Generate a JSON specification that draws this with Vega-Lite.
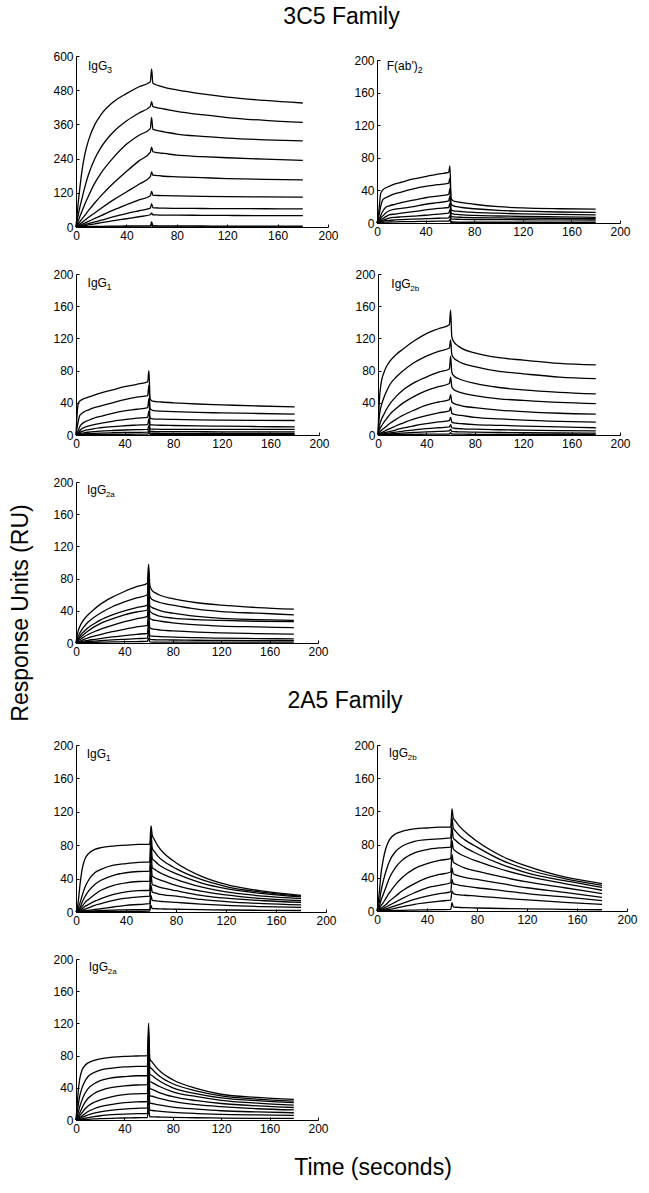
{
"$schema":"https://vega.github.io/schema/vega-lite/v6.json",
"background":"white",
"padding":{"left":9,"top":6,"right":0,"bottom":0},
"title":{"text":"Response Units (RU)","orient":"left","anchor":"middle","fontSize":23,"offset":20,"dx":-20},
"datasets":{"d":[
{"p":1,"t":0,"a":0,"b":0,"c":0,"d":0,"e":0,"f":0,"g":0,"h":0,"i":0,"j":0},
{"p":1,"t":1,"a":50,"b":25,"c":12,"d":6,"e":3,"f":2,"g":1,"h":1,"i":0,"j":0},
{"p":1,"t":2,"a":95,"b":48,"c":24,"d":12,"e":7,"f":4,"g":2.5,"h":1.5,"i":0.5,"j":0},
{"p":1,"t":3,"a":135,"b":68,"c":36,"d":18,"e":10,"f":6,"g":3.5,"h":2.2,"i":0.7,"j":0},
{"p":1,"t":5,"a":205,"b":105,"c":58,"d":30,"e":17,"f":10,"g":6,"h":3.7,"i":1,"j":0},
{"p":1,"t":7,"a":255,"b":140,"c":80,"d":41,"e":24,"f":14,"g":8.5,"h":5.2,"i":1.2,"j":0},
{"p":1,"t":10,"a":305,"b":185,"c":110,"d":58,"e":34,"f":20,"g":12,"h":7.5,"i":1.5,"j":0},
{"p":1,"t":15,"a":360,"b":240,"c":155,"d":85,"e":50,"f":30,"g":18,"h":11,"i":2,"j":0},
{"p":1,"t":20,"a":395,"b":280,"c":190,"d":110,"e":66,"f":40,"g":24,"h":15,"i":2.5,"j":0},
{"p":1,"t":30,"a":440,"b":335,"c":245,"d":155,"e":96,"f":60,"g":36,"h":22,"i":3,"j":0},
{"p":1,"t":40,"a":468,"b":372,"c":290,"d":195,"e":123,"f":78,"g":47,"h":29,"i":3.5,"j":0},
{"p":1,"t":50,"a":492,"b":400,"c":322,"d":232,"e":150,"f":95,"g":57,"h":36,"i":4,"j":0},
{"p":1,"t":59,"a":510,"b":423,"c":345,"d":263,"e":177,"f":110,"g":66,"h":43,"i":4.5,"j":0},
{"p":1,"t":60,"a":555,"b":440,"c":385,"d":280,"e":193,"f":125,"g":82,"h":49,"i":18,"j":8},
{"p":1,"t":61,"a":505,"b":423,"c":343,"d":264,"e":182,"f":112,"g":68,"h":43,"i":5,"j":0},
{"p":1,"t":63,"a":500,"b":420,"c":340,"d":262,"e":181,"f":111,"g":67,"h":42.5,"i":4.5,"j":0},
{"p":1,"t":66,"a":495,"b":417,"c":337,"d":260,"e":180,"f":110.5,"g":66.5,"h":42,"i":4.2,"j":0},
{"p":1,"t":70,"a":490,"b":414,"c":334,"d":258,"e":178,"f":110,"g":66,"h":42,"i":4,"j":0},
{"p":1,"t":80,"a":481,"b":406,"c":326,"d":252,"e":176,"f":109,"g":65.5,"h":41.5,"i":3.8,"j":0},
{"p":1,"t":100,"a":467,"b":394,"c":318,"d":247,"e":173,"f":107.5,"g":65,"h":41,"i":3.5,"j":0},
{"p":1,"t":120,"a":456,"b":384,"c":312,"d":243,"e":170,"f":106.5,"g":64.5,"h":40.5,"i":3.2,"j":0},
{"p":1,"t":150,"a":444,"b":374,"c":306,"d":238,"e":167,"f":105.5,"g":64,"h":40,"i":3,"j":0},
{"p":1,"t":180,"a":435,"b":367,"c":302,"d":234,"e":165,"f":105,"g":63.5,"h":40,"i":3,"j":0},

{"p":2,"t":0,"a":0,"b":0,"c":0,"d":0,"e":0,"f":0,"g":0,"h":0},
{"p":2,"t":1,"a":8,"b":5,"c":2,"d":1.5,"e":1,"f":0.5,"g":0.3,"h":0},
{"p":2,"t":2,"a":22,"b":12,"c":5,"d":3.5,"e":2.5,"f":1.5,"g":1,"h":0.3},
{"p":2,"t":3,"a":36,"b":20,"c":9,"d":6,"e":4,"f":2.5,"g":1.5,"h":0.5},
{"p":2,"t":5,"a":41,"b":29,"c":15,"d":9,"e":5.5,"f":3.5,"g":2.2,"h":0.8},
{"p":2,"t":7,"a":43,"b":31,"c":19,"d":12,"e":7.5,"f":4.5,"g":2.8,"h":1},
{"p":2,"t":10,"a":45,"b":33,"c":21,"d":15,"e":10,"f":6,"g":3.3,"h":1.2},
{"p":2,"t":15,"a":48,"b":36,"c":23,"d":17,"e":11,"f":7,"g":3.8,"h":1.4},
{"p":2,"t":20,"a":50,"b":38,"c":25,"d":18,"e":12,"f":7.5,"g":4.2,"h":1.6},
{"p":2,"t":30,"a":54,"b":42,"c":28,"d":20,"e":14,"f":8.5,"g":4.8,"h":1.8},
{"p":2,"t":40,"a":57,"b":45,"c":31,"d":23,"e":16,"f":9.5,"g":5.3,"h":2},
{"p":2,"t":50,"a":60,"b":47,"c":33,"d":25,"e":18,"f":11,"g":5.8,"h":2.2},
{"p":2,"t":59,"a":62,"b":49,"c":35,"d":27,"e":19,"f":12,"g":6.2,"h":2.4},
{"p":2,"t":60,"a":70,"b":55,"c":42,"d":33,"e":24,"f":16,"g":9,"h":4},
{"p":2,"t":61,"a":30,"b":23,"c":16,"d":12,"e":8,"f":5,"g":1.5,"h":0},
{"p":2,"t":63,"a":27,"b":21,"c":15,"d":11,"e":7.5,"f":4.8,"g":1.2,"h":0},
{"p":2,"t":66,"a":26,"b":20,"c":14.5,"d":10.5,"e":7.2,"f":4.6,"g":1.1,"h":0},
{"p":2,"t":70,"a":25,"b":19,"c":14,"d":10,"e":7,"f":4.5,"g":1,"h":0.2},
{"p":2,"t":80,"a":23,"b":17.5,"c":13,"d":9.3,"e":6.6,"f":4.3,"g":1,"h":0.3},
{"p":2,"t":100,"a":20,"b":15.5,"c":12,"d":8.6,"e":6.2,"f":4.1,"g":1,"h":0.4},
{"p":2,"t":120,"a":18.5,"b":14.5,"c":11.2,"d":8,"e":5.9,"f":4,"g":1,"h":0.5},
{"p":2,"t":150,"a":17.5,"b":13.5,"c":10.5,"d":7.5,"e":5.6,"f":3.8,"g":1,"h":0.5},
{"p":2,"t":180,"a":17,"b":13,"c":10,"d":7,"e":5.3,"f":3.7,"g":1,"h":0.5},

{"p":3,"t":0,"a":0,"b":0,"c":0,"d":0,"e":0,"f":0,"g":0,"h":0},
{"p":3,"t":1,"a":28,"b":10,"c":3,"d":1.5,"e":1,"f":0.5,"g":0.3,"h":0},
{"p":3,"t":2,"a":40,"b":18,"c":6,"d":3,"e":2,"f":1,"g":0.5,"h":0.1},
{"p":3,"t":3,"a":42,"b":24,"c":10,"d":5,"e":3,"f":1.5,"g":0.8,"h":0.2},
{"p":3,"t":5,"a":44,"b":27,"c":14,"d":8,"e":4.5,"f":2.3,"g":1.1,"h":0.3},
{"p":3,"t":7,"a":45.5,"b":29,"c":16,"d":9.5,"e":5.5,"f":2.8,"g":1.4,"h":0.4},
{"p":3,"t":10,"a":47,"b":31,"c":18,"d":11,"e":6.5,"f":3.4,"g":1.7,"h":0.5},
{"p":3,"t":15,"a":49.5,"b":34,"c":21,"d":13,"e":8,"f":4.2,"g":2.1,"h":0.6},
{"p":3,"t":20,"a":52,"b":36,"c":23,"d":14.5,"e":9,"f":4.8,"g":2.4,"h":0.7},
{"p":3,"t":30,"a":56,"b":40,"c":27,"d":17,"e":10.5,"f":5.6,"g":2.8,"h":0.8},
{"p":3,"t":40,"a":60,"b":44,"c":30,"d":19,"e":11.5,"f":6.2,"g":3.1,"h":0.9},
{"p":3,"t":50,"a":63,"b":47,"c":32,"d":21,"e":12.3,"f":6.7,"g":3.3,"h":1},
{"p":3,"t":59,"a":66,"b":49,"c":34,"d":22,"e":13,"f":7,"g":3.5,"h":1},
{"p":3,"t":60,"a":80,"b":62,"c":45,"d":30,"e":20,"f":12,"g":7,"h":3},
{"p":3,"t":61,"a":45,"b":33,"c":21,"d":13,"e":7.5,"f":4.5,"g":2.3,"h":0.6},
{"p":3,"t":63,"a":42,"b":30.5,"c":20,"d":12.5,"e":7.3,"f":4.4,"g":2.2,"h":0.6},
{"p":3,"t":66,"a":41.5,"b":30,"c":19.8,"d":12.3,"e":7.2,"f":4.3,"g":2.2,"h":0.6},
{"p":3,"t":70,"a":41,"b":29.7,"c":19.6,"d":12.1,"e":7.1,"f":4.3,"g":2.1,"h":0.6},
{"p":3,"t":80,"a":40,"b":29,"c":19.3,"d":11.8,"e":7,"f":4.2,"g":2.1,"h":0.6},
{"p":3,"t":100,"a":38.5,"b":28,"c":18.8,"d":11.3,"e":7,"f":4.1,"g":2,"h":0.5},
{"p":3,"t":120,"a":37.5,"b":27.5,"c":18.5,"d":11,"e":7,"f":4,"g":2,"h":0.5},
{"p":3,"t":150,"a":36,"b":26.7,"c":18.2,"d":10.5,"e":7,"f":4,"g":2,"h":0.5},
{"p":3,"t":180,"a":35,"b":26,"c":18,"d":10,"e":7,"f":4,"g":2,"h":0.5},

{"p":4,"t":0,"a":0,"b":0,"c":0,"d":0,"e":0,"f":0,"g":0,"h":0,"i":0,"j":0},
{"p":4,"t":1,"a":40,"b":22,"c":10,"d":6,"e":3,"f":1.5,"g":1,"h":0.5,"i":0.2,"j":0.1},
{"p":4,"t":2,"a":58,"b":32,"c":16,"d":9,"e":4.5,"f":2.5,"g":1.5,"h":0.8,"i":0.4,"j":0.2},
{"p":4,"t":3,"a":68,"b":38,"c":20,"d":11.5,"e":6,"f":3,"g":2,"h":1,"i":0.5,"j":0.2},
{"p":4,"t":5,"a":78,"b":47,"c":26,"d":16,"e":8.5,"f":4.5,"g":2.8,"h":1.5,"i":0.8,"j":0.3},
{"p":4,"t":7,"a":85,"b":54,"c":32,"d":20,"e":11,"f":6,"g":3.5,"h":2,"i":1,"j":0.4},
{"p":4,"t":10,"a":92,"b":63,"c":39,"d":26,"e":14.5,"f":8,"g":4.5,"h":2.6,"i":1.3,"j":0.5},
{"p":4,"t":15,"a":100,"b":72,"c":48,"d":33,"e":19.5,"f":11.5,"g":6.5,"h":3.6,"i":1.8,"j":0.6},
{"p":4,"t":20,"a":106,"b":79,"c":55,"d":39,"e":24,"f":14.5,"g":8.5,"h":4.6,"i":2.3,"j":0.7},
{"p":4,"t":30,"a":117,"b":90,"c":65,"d":48,"e":31,"f":20,"g":11.5,"h":6.3,"i":3.1,"j":0.9},
{"p":4,"t":40,"a":126,"b":98,"c":72,"d":55,"e":37,"f":24,"g":14,"h":7.8,"i":3.8,"j":1},
{"p":4,"t":50,"a":132,"b":104,"c":78,"d":60,"e":41,"f":27.5,"g":16.2,"h":9,"i":4.4,"j":1.1},
{"p":4,"t":59,"a":137,"b":108,"c":82,"d":64,"e":44,"f":30,"g":18,"h":10,"i":5,"j":1.2},
{"p":4,"t":60,"a":155,"b":118,"c":98,"d":72,"e":50,"f":35,"g":22,"h":13,"i":7,"j":3},
{"p":4,"t":61,"a":122,"b":100,"c":78,"d":60,"e":41,"f":27,"g":16,"h":9,"i":4.5,"j":1},
{"p":4,"t":63,"a":115,"b":95,"c":73,"d":56,"e":39,"f":25.5,"g":15,"h":8.4,"i":4.2,"j":1},
{"p":4,"t":66,"a":111,"b":92,"c":70.5,"d":54,"e":37.5,"f":24.8,"g":14.5,"h":8,"i":4,"j":1},
{"p":4,"t":70,"a":107,"b":89,"c":68,"d":52,"e":36,"f":24,"g":14,"h":7.7,"i":3.8,"j":1},
{"p":4,"t":80,"a":102,"b":85,"c":64,"d":49,"e":34,"f":22,"g":13,"h":7.2,"i":3.5,"j":0.9},
{"p":4,"t":100,"a":96,"b":79,"c":59,"d":45,"e":31,"f":20,"g":12,"h":6.5,"i":3.1,"j":0.8},
{"p":4,"t":120,"a":93,"b":76,"c":56,"d":43,"e":29,"f":18.5,"g":11,"h":6,"i":2.8,"j":0.8},
{"p":4,"t":150,"a":89,"b":72,"c":53,"d":40.5,"e":27,"f":17,"g":10,"h":5.4,"i":2.5,"j":0.7},
{"p":4,"t":180,"a":87,"b":70,"c":51,"d":39,"e":26,"f":16,"g":9,"h":5,"i":2.3,"j":0.7},

{"p":5,"t":0,"a":0,"b":0,"c":0,"d":0,"e":0,"f":0,"g":0,"h":0,"i":0},
{"p":5,"t":1,"a":10,"b":5,"c":3,"d":2.5,"e":1.5,"f":1,"g":0.5,"h":0.3,"i":0.1},
{"p":5,"t":2,"a":16,"b":9,"c":6,"d":4.5,"e":3,"f":1.8,"g":1,"h":0.5,"i":0.2},
{"p":5,"t":3,"a":20,"b":12,"c":8,"d":6,"e":4,"f":2.3,"g":1.3,"h":0.7,"i":0.3},
{"p":5,"t":5,"a":26,"b":17,"c":12,"d":9,"e":6,"f":3.5,"g":2,"h":1,"i":0.4},
{"p":5,"t":7,"a":30,"b":21,"c":15,"d":11.5,"e":8,"f":4.7,"g":2.5,"h":1.3,"i":0.5},
{"p":5,"t":10,"a":35,"b":26,"c":19,"d":15,"e":10.5,"f":6.3,"g":3.3,"h":1.7,"i":0.6},
{"p":5,"t":15,"a":42,"b":32,"c":24,"d":20,"e":14,"f":8.5,"g":4.4,"h":2.3,"i":0.8},
{"p":5,"t":20,"a":48,"b":37,"c":28.5,"d":24,"e":17,"f":10.5,"g":5.5,"h":2.8,"i":1},
{"p":5,"t":30,"a":57,"b":45,"c":35,"d":30,"e":22,"f":14,"g":7.5,"h":3.8,"i":1.3},
{"p":5,"t":40,"a":64,"b":51,"c":40,"d":35,"e":26.5,"f":17,"g":9.2,"h":4.6,"i":1.6},
{"p":5,"t":50,"a":70,"b":56,"c":44,"d":38.5,"e":30,"f":20,"g":10.8,"h":5.4,"i":1.8},
{"p":5,"t":59,"a":74,"b":60,"c":47,"d":41,"e":33,"f":22,"g":12,"h":6,"i":2},
{"p":5,"t":60,"a":98,"b":92,"c":82,"d":72,"e":58,"f":42,"g":27,"h":16,"i":6},
{"p":5,"t":61,"a":72,"b":58,"c":46,"d":40,"e":31,"f":19,"g":9,"h":4.5,"i":1.3},
{"p":5,"t":63,"a":65,"b":54,"c":44,"d":37,"e":29,"f":17.5,"g":8.5,"h":4.2,"i":1.2},
{"p":5,"t":66,"a":62,"b":52,"c":42,"d":35,"e":28,"f":16.8,"g":8.2,"h":4,"i":1.2},
{"p":5,"t":70,"a":59,"b":50,"c":40,"d":33,"e":27,"f":16,"g":7.9,"h":3.9,"i":1.1},
{"p":5,"t":80,"a":55,"b":47,"c":37,"d":31,"e":25,"f":15,"g":7.4,"h":3.7,"i":1.1},
{"p":5,"t":100,"a":50,"b":42,"c":33,"d":29,"e":22.5,"f":13.5,"g":6.6,"h":3.4,"i":1},
{"p":5,"t":120,"a":47,"b":39,"c":30.5,"d":28,"e":21,"f":12.5,"g":6,"h":3.2,"i":1},
{"p":5,"t":150,"a":44,"b":37,"c":29,"d":27,"e":20,"f":11.7,"g":5.5,"h":3,"i":1},
{"p":5,"t":180,"a":42,"b":35,"c":28,"d":26.5,"e":19,"f":11,"g":5,"h":3,"i":1},

{"p":6,"t":0,"a":0,"b":0,"c":0,"d":0,"e":0,"f":0,"g":0,"h":0,"i":0},
{"p":6,"t":1,"a":5,"b":2,"c":1,"d":0.6,"e":0.3,"f":0.2,"g":0.1,"h":0,"i":0},
{"p":6,"t":2,"a":15,"b":6,"c":3,"d":1.8,"e":1,"f":0.6,"g":0.3,"h":0.1,"i":0},
{"p":6,"t":3,"a":30,"b":10,"c":5,"d":3,"e":1.8,"f":1,"g":0.5,"h":0.2,"i":0},
{"p":6,"t":5,"a":52,"b":20,"c":12,"d":7,"e":4,"f":2,"g":1,"h":0.4,"i":0.1},
{"p":6,"t":7,"a":63,"b":29,"c":18,"d":11,"e":6.5,"f":3.5,"g":1.5,"h":0.6,"i":0.2},
{"p":6,"t":10,"a":70,"b":38,"c":25,"d":15,"e":9,"f":5,"g":2,"h":0.9,"i":0.3},
{"p":6,"t":15,"a":75,"b":47,"c":33,"d":21,"e":13,"f":8,"g":3,"h":1.4,"i":0.4},
{"p":6,"t":20,"a":77,"b":51,"c":38,"d":26,"e":16,"f":10,"g":4,"h":1.8,"i":0.5},
{"p":6,"t":30,"a":79,"b":56,"c":44,"d":32,"e":21,"f":14,"g":6,"h":2.3,"i":0.7},
{"p":6,"t":40,"a":80,"b":58,"c":47,"d":35,"e":24,"f":16.5,"g":8,"h":2.6,"i":0.8},
{"p":6,"t":50,"a":81,"b":59.5,"c":48.5,"d":36.5,"e":25.5,"f":18,"g":9,"h":2.8,"i":0.9},
{"p":6,"t":59,"a":81,"b":60,"c":49,"d":37,"e":26,"f":19,"g":10,"h":3,"i":1},
{"p":6,"t":60,"a":103,"b":95,"c":86,"d":72,"e":57,"f":45,"g":32,"h":20,"i":8},
{"p":6,"t":61,"a":92,"b":76,"c":64,"d":53,"e":43,"f":33,"g":24,"h":14,"i":4},
{"p":6,"t":63,"a":86,"b":72,"c":61,"d":51,"e":41,"f":32,"g":23,"h":13.5,"i":4},
{"p":6,"t":66,"a":78,"b":66,"c":57,"d":48,"e":39,"f":30,"g":21.5,"h":13,"i":3.8},
{"p":6,"t":70,"a":71,"b":61,"c":53,"d":45,"e":37,"f":28.5,"g":20.5,"h":12.5,"i":3.6},
{"p":6,"t":80,"a":59,"b":52,"c":46,"d":39,"e":32,"f":25.5,"g":19,"h":11.5,"i":3.3},
{"p":6,"t":100,"a":43,"b":39,"c":35,"d":30,"e":25,"f":20,"g":15,"h":9.5,"i":2.8},
{"p":6,"t":120,"a":33,"b":30.5,"c":28,"d":24,"e":20.5,"f":16.5,"g":12.5,"h":8,"i":2.4},
{"p":6,"t":150,"a":25,"b":23.5,"c":22,"d":19,"e":16,"f":13.5,"g":10,"h":6.5,"i":2},
{"p":6,"t":180,"a":20,"b":19,"c":18,"d":16,"e":13.5,"f":11.5,"g":8.5,"h":5.5,"i":1.8},

{"p":7,"t":0,"a":0,"b":0,"c":0,"d":0,"e":0,"f":0,"g":0,"h":0,"i":0},
{"p":7,"t":1,"a":10,"b":5,"c":2.5,"d":1.2,"e":0.6,"f":0.3,"g":0.2,"h":0.1,"i":0},
{"p":7,"t":2,"a":25,"b":12,"c":6,"d":3,"e":1.5,"f":0.8,"g":0.5,"h":0.2,"i":0},
{"p":7,"t":3,"a":42,"b":22,"c":12,"d":6,"e":3,"f":1.5,"g":0.9,"h":0.4,"i":0.1},
{"p":7,"t":5,"a":62,"b":36,"c":20,"d":10,"e":5,"f":3,"g":1.7,"h":0.8,"i":0.2},
{"p":7,"t":7,"a":75,"b":47,"c":28,"d":15,"e":7.5,"f":4.5,"g":2.5,"h":1.2,"i":0.3},
{"p":7,"t":10,"a":86,"b":60,"c":40,"d":22,"e":12,"f":7,"g":4,"h":2,"i":0.4},
{"p":7,"t":15,"a":93,"b":72,"c":53,"d":32,"e":18,"f":11,"g":6.5,"h":3.5,"i":0.6},
{"p":7,"t":20,"a":96,"b":78,"c":61,"d":40,"e":24,"f":15,"g":9,"h":5,"i":0.8},
{"p":7,"t":30,"a":99,"b":84,"c":70,"d":51,"e":33,"f":22,"g":14,"h":8,"i":1.1},
{"p":7,"t":40,"a":100,"b":86,"c":74,"d":57,"e":40,"f":28,"g":18,"h":10,"i":1.4},
{"p":7,"t":50,"a":101,"b":87,"c":76,"d":61,"e":44,"f":31,"g":21,"h":12,"i":1.7},
{"p":7,"t":59,"a":101,"b":88,"c":77,"d":63,"e":47,"f":34,"g":23,"h":13,"i":2},
{"p":7,"t":60,"a":123,"b":112,"c":100,"d":85,"e":68,"f":52,"g":38,"h":24,"i":10},
{"p":7,"t":61,"a":112,"b":100,"c":88,"d":75,"e":59,"f":45,"g":33,"h":21,"i":5},
{"p":7,"t":63,"a":108,"b":96,"c":85,"d":72,"e":57,"f":43.5,"g":32,"h":20,"i":4.5},
{"p":7,"t":66,"a":102,"b":91,"c":81,"d":69,"e":54.5,"f":42,"g":31,"h":19.5,"i":4.2},
{"p":7,"t":70,"a":96,"b":86,"c":77,"d":66,"e":52,"f":40.5,"g":30,"h":19,"i":4},
{"p":7,"t":80,"a":84,"b":77,"c":69,"d":60,"e":48,"f":38,"g":28,"h":18,"i":3.6},
{"p":7,"t":100,"a":66,"b":61,"c":56,"d":50,"e":41,"f":33,"g":24.5,"h":15.5,"i":3},
{"p":7,"t":120,"a":54,"b":50,"c":46,"d":42,"e":35,"f":28,"g":21,"h":13.5,"i":2.5},
{"p":7,"t":150,"a":41,"b":39,"c":36.5,"d":33,"e":28,"f":22.5,"g":17,"h":10.5,"i":2},
{"p":7,"t":180,"a":33,"b":31,"c":28.5,"d":25,"e":21,"f":16.5,"g":12.5,"h":8,"i":1.5},

{"p":8,"t":0,"a":0,"b":0,"c":0,"d":0,"e":0,"f":0,"g":0,"h":0,"i":0},
{"p":8,"t":1,"a":20,"b":10,"c":5,"d":2.5,"e":1.5,"f":1,"g":0.5,"h":0.3,"i":0.1},
{"p":8,"t":2,"a":38,"b":20,"c":10,"d":5,"e":3,"f":2,"g":1.2,"h":0.6,"i":0.2},
{"p":8,"t":3,"a":50,"b":29,"c":16,"d":8.5,"e":5,"f":3,"g":1.8,"h":0.9,"i":0.3},
{"p":8,"t":5,"a":62,"b":40,"c":25,"d":15,"e":9,"f":5,"g":3,"h":1.5,"i":0.5},
{"p":8,"t":7,"a":67,"b":47,"c":32,"d":21,"e":13,"f":7.5,"g":4.5,"h":2.2,"i":0.7},
{"p":8,"t":10,"a":71,"b":54,"c":39,"d":27,"e":17.5,"f":10.5,"g":6.2,"h":3,"i":0.9},
{"p":8,"t":15,"a":74,"b":59,"c":45,"d":33,"e":22,"f":14,"g":8.5,"h":4.3,"i":1.3},
{"p":8,"t":20,"a":76,"b":62,"c":49,"d":36.5,"e":25,"f":16.5,"g":10,"h":5.3,"i":1.6},
{"p":8,"t":30,"a":78,"b":64.5,"c":52.5,"d":40.5,"e":29,"f":19.5,"g":12.3,"h":6.6,"i":2.1},
{"p":8,"t":40,"a":79,"b":66,"c":54,"d":42.5,"e":31.5,"f":21.5,"g":13.6,"h":7.4,"i":2.5},
{"p":8,"t":50,"a":79.5,"b":66.5,"c":55,"d":43.5,"e":32.5,"f":22.5,"g":14.5,"h":7.9,"i":2.8},
{"p":8,"t":59,"a":80,"b":67,"c":55,"d":44,"e":33,"f":23,"g":15,"h":8,"i":3},
{"p":8,"t":60,"a":120,"b":110,"c":100,"d":88,"e":75,"f":60,"g":45,"h":30,"i":15},
{"p":8,"t":61,"a":76,"b":66,"c":57,"d":48,"e":39,"f":30,"g":21,"h":12,"i":4},
{"p":8,"t":63,"a":72,"b":63,"c":55,"d":46.5,"e":38,"f":29.5,"g":20.5,"h":11.8,"i":4},
{"p":8,"t":66,"a":66,"b":58.5,"c":51.5,"d":44,"e":36,"f":28,"g":19.5,"h":11.3,"i":3.8},
{"p":8,"t":70,"a":60,"b":53.5,"c":47.5,"d":41,"e":33.5,"f":26.5,"g":18.5,"h":10.7,"i":3.6},
{"p":8,"t":80,"a":50,"b":45,"c":40,"d":35,"e":29,"f":23,"g":16,"h":9.5,"i":3.2},
{"p":8,"t":100,"a":39,"b":36,"c":32.5,"d":29,"e":24,"f":19,"g":13.5,"h":8,"i":2.8},
{"p":8,"t":120,"a":32,"b":30,"c":27.5,"d":24.5,"e":20.5,"f":16.5,"g":11.5,"h":7,"i":2.4},
{"p":8,"t":150,"a":28,"b":26,"c":24,"d":21,"e":17.5,"f":14,"g":10,"h":6.3,"i":2.1},
{"p":8,"t":180,"a":25.5,"b":23.5,"c":21.5,"d":18.5,"e":15.5,"f":12.5,"g":9,"h":5.8,"i":2}
]},
"vconcat":[{
 "title":{"text":"Time (seconds)","orient":"bottom","anchor":"middle","fontSize":23,"offset":23,"dx":28},
 "spacing":33,
 "vconcat":[
  {"title":{"text":"3C5 Family","anchor":"middle","fontSize":23,"offset":21},
   "spacing":27,
   "vconcat":[
    {"hconcat":[
      {"width":252,"height":171,"layer":[
        {"data":{"name":"d"},"transform":[{"filter":"datum.p==1"},{"fold":["a","b","c","d","e","f","g","h","i","j"],"as":["k","v"]}],
         "mark":{"type":"line"},
         "encoding":{"x":{"field":"t","type":"quantitative","title":null,"scale":{"domain":[0,200]},"axis":{"values":[0,40,80,120,160,200],"tickCount":6,"labelOverlap":false}},
                     "y":{"field":"v","type":"quantitative","title":null,"scale":{"domain":[0,600]},"axis":{"values":[0,120,240,360,480,600],"tickCount":6,"labelOverlap":false}},
                     "detail":{"field":"k"}}},
        {"data":{"values":[{"m":"IgG","s":"3"}]},"mark":{"type":"text","align":"left","baseline":"alphabetic","fontSize":12},
         "encoding":{"x":{"datum":9.5},"y":{"datum":551},"text":{"field":"m"}}},
        {"data":{"values":[{"m":"IgG","s":"3"}]},"mark":{"type":"text","align":"left","baseline":"alphabetic","fontSize":9,"dx":19,"dy":3},
         "encoding":{"x":{"datum":9.5},"y":{"datum":551},"text":{"field":"s"}}}
      ]},
      {"width":243,"height":163,"layer":[
        {"data":{"name":"d"},"transform":[{"filter":"datum.p==2"},{"fold":["a","b","c","d","e","f","g","h"],"as":["k","v"]}],
         "mark":{"type":"line"},
         "encoding":{"x":{"field":"t","type":"quantitative","title":null,"scale":{"domain":[0,200]},"axis":{"values":[0,40,80,120,160,200],"tickCount":6,"labelOverlap":false}},
                     "y":{"field":"v","type":"quantitative","title":null,"scale":{"domain":[0,200]},"axis":{"values":[0,40,80,120,160,200],"tickCount":6,"labelOverlap":false}},
                     "detail":{"field":"k"}}},
        {"data":{"values":[{"m":"F(ab')","s":"2"}]},"mark":{"type":"text","align":"left","baseline":"alphabetic","fontSize":12},
         "encoding":{"x":{"datum":8},"y":{"datum":188},"text":{"field":"m"}}},
        {"data":{"values":[{"m":"F(ab')","s":"2"}]},"mark":{"type":"text","align":"left","baseline":"alphabetic","fontSize":9,"dx":31,"dy":3},
         "encoding":{"x":{"datum":8},"y":{"datum":188},"text":{"field":"s"}}}
      ]}
    ],"spacing":14,"center":true},
    {"hconcat":[
      {"width":243,"height":161,"layer":[
        {"data":{"name":"d"},"transform":[{"filter":"datum.p==3"},{"fold":["a","b","c","d","e","f","g","h"],"as":["k","v"]}],
         "mark":{"type":"line"},
         "encoding":{"x":{"field":"t","type":"quantitative","title":null,"scale":{"domain":[0,200]},"axis":{"values":[0,40,80,120,160,200],"tickCount":6,"labelOverlap":false}},
                     "y":{"field":"v","type":"quantitative","title":null,"scale":{"domain":[0,200]},"axis":{"values":[0,40,80,120,160,200],"tickCount":6,"labelOverlap":false}},
                     "detail":{"field":"k"}}},
        {"data":{"values":[{"m":"IgG","s":"1"}]},"mark":{"type":"text","align":"left","baseline":"alphabetic","fontSize":12},
         "encoding":{"x":{"datum":9.5},"y":{"datum":184},"text":{"field":"m"}}},
        {"data":{"values":[{"m":"IgG","s":"1"}]},"mark":{"type":"text","align":"left","baseline":"alphabetic","fontSize":9,"dx":19,"dy":3},
         "encoding":{"x":{"datum":9.5},"y":{"datum":184},"text":{"field":"s"}}}
      ]},
      {"width":242,"height":161,"layer":[
        {"data":{"name":"d"},"transform":[{"filter":"datum.p==4"},{"fold":["a","b","c","d","e","f","g","h","i","j"],"as":["k","v"]}],
         "mark":{"type":"line"},
         "encoding":{"x":{"field":"t","type":"quantitative","title":null,"scale":{"domain":[0,200]},"axis":{"values":[0,40,80,120,160,200],"tickCount":6,"labelOverlap":false}},
                     "y":{"field":"v","type":"quantitative","title":null,"scale":{"domain":[0,200]},"axis":{"values":[0,40,80,120,160,200],"tickCount":6,"labelOverlap":false}},
                     "detail":{"field":"k"}}},
        {"data":{"values":[{"m":"IgG","s":"2b"}]},"mark":{"type":"text","align":"left","baseline":"alphabetic","fontSize":12},
         "encoding":{"x":{"datum":11},"y":{"datum":183},"text":{"field":"m"}}},
        {"data":{"values":[{"m":"IgG","s":"2b"}]},"mark":{"type":"text","align":"left","baseline":"alphabetic","fontSize":8,"dx":19,"dy":3},
         "encoding":{"x":{"datum":11},"y":{"datum":183},"text":{"field":"s"}}}
      ]}
    ],"spacing":24},
    {"width":242,"height":161,"layer":[
        {"data":{"name":"d"},"transform":[{"filter":"datum.p==5"},{"fold":["a","b","c","d","e","f","g","h","i"],"as":["k","v"]}],
         "mark":{"type":"line"},
         "encoding":{"x":{"field":"t","type":"quantitative","title":null,"scale":{"domain":[0,200]},"axis":{"values":[0,40,80,120,160,200],"tickCount":6,"labelOverlap":false}},
                     "y":{"field":"v","type":"quantitative","title":null,"scale":{"domain":[0,200]},"axis":{"values":[0,40,80,120,160,200],"tickCount":6,"labelOverlap":false}},
                     "detail":{"field":"k"}}},
        {"data":{"values":[{"m":"IgG","s":"2a"}]},"mark":{"type":"text","align":"left","baseline":"alphabetic","fontSize":12},
         "encoding":{"x":{"datum":9},"y":{"datum":185},"text":{"field":"m"}}},
        {"data":{"values":[{"m":"IgG","s":"2a"}]},"mark":{"type":"text","align":"left","baseline":"alphabetic","fontSize":8,"dx":19,"dy":3},
         "encoding":{"x":{"datum":9},"y":{"datum":185},"text":{"field":"s"}}}
    ]}
   ]},
  {"title":{"text":"2A5 Family","anchor":"middle","fontSize":23,"offset":26},
   "spacing":27,
   "vconcat":[
    {"hconcat":[
      {"width":250,"height":167,"layer":[
        {"data":{"name":"d"},"transform":[{"filter":"datum.p==6"},{"fold":["a","b","c","d","e","f","g","h","i"],"as":["k","v"]}],
         "mark":{"type":"line"},
         "encoding":{"x":{"field":"t","type":"quantitative","title":null,"scale":{"domain":[0,200]},"axis":{"values":[0,40,80,120,160,200],"tickCount":6,"labelOverlap":false}},
                     "y":{"field":"v","type":"quantitative","title":null,"scale":{"domain":[0,200]},"axis":{"values":[0,40,80,120,160,200],"tickCount":6,"labelOverlap":false}},
                     "detail":{"field":"k"}}},
        {"data":{"values":[{"m":"IgG","s":"1"}]},"mark":{"type":"text","align":"left","baseline":"alphabetic","fontSize":12},
         "encoding":{"x":{"datum":8.5},"y":{"datum":184},"text":{"field":"m"}}},
        {"data":{"values":[{"m":"IgG","s":"1"}]},"mark":{"type":"text","align":"left","baseline":"alphabetic","fontSize":9,"dx":19,"dy":3},
         "encoding":{"x":{"datum":8.5},"y":{"datum":184},"text":{"field":"s"}}}
      ]},
      {"width":250,"height":166,"layer":[
        {"data":{"name":"d"},"transform":[{"filter":"datum.p==7"},{"fold":["a","b","c","d","e","f","g","h","i"],"as":["k","v"]}],
         "mark":{"type":"line"},
         "encoding":{"x":{"field":"t","type":"quantitative","title":null,"scale":{"domain":[0,200]},"axis":{"values":[0,40,80,120,160,200],"tickCount":6,"labelOverlap":false}},
                     "y":{"field":"v","type":"quantitative","title":null,"scale":{"domain":[0,200]},"axis":{"values":[0,40,80,120,160,200],"tickCount":6,"labelOverlap":false}},
                     "detail":{"field":"k"}}},
        {"data":{"values":[{"m":"IgG","s":"2b"}]},"mark":{"type":"text","align":"left","baseline":"alphabetic","fontSize":12},
         "encoding":{"x":{"datum":9.4},"y":{"datum":185},"text":{"field":"m"}}},
        {"data":{"values":[{"m":"IgG","s":"2b"}]},"mark":{"type":"text","align":"left","baseline":"alphabetic","fontSize":8,"dx":19,"dy":3},
         "encoding":{"x":{"datum":9.4},"y":{"datum":185},"text":{"field":"s"}}}
      ]}
    ],"spacing":16},
    {"width":242,"height":161,"layer":[
        {"data":{"name":"d"},"transform":[{"filter":"datum.p==8"},{"fold":["a","b","c","d","e","f","g","h","i"],"as":["k","v"]}],
         "mark":{"type":"line"},
         "encoding":{"x":{"field":"t","type":"quantitative","title":null,"scale":{"domain":[0,200]},"axis":{"values":[0,40,80,120,160,200],"tickCount":6,"labelOverlap":false}},
                     "y":{"field":"v","type":"quantitative","title":null,"scale":{"domain":[0,200]},"axis":{"values":[0,40,80,120,160,200],"tickCount":6,"labelOverlap":false}},
                     "detail":{"field":"k"}}},
        {"data":{"values":[{"m":"IgG","s":"2a"}]},"mark":{"type":"text","align":"left","baseline":"alphabetic","fontSize":12},
         "encoding":{"x":{"datum":10.5},"y":{"datum":185},"text":{"field":"m"}}},
        {"data":{"values":[{"m":"IgG","s":"2a"}]},"mark":{"type":"text","align":"left","baseline":"alphabetic","fontSize":8,"dx":19,"dy":3},
         "encoding":{"x":{"datum":10.5},"y":{"datum":185},"text":{"field":"s"}}}
    ]}
   ]}
 ]
}],
"config":{
 "font":"Liberation Sans",
 "view":{"stroke":null},
 "axis":{"domainColor":"#000","tickColor":"#000","labelColor":"#000","labelFont":"Liberation Sans","labelFontSize":12,"tickSize":-3,"labelPadding":6,"grid":false,"labelFlush":false,"labelOverlap":false,"labelBound":false,"domainWidth":1,"tickWidth":1},
 "line":{"color":"#000","strokeWidth":1.3,"interpolate":"monotone"},
 "text":{"color":"#000","font":"Liberation Sans"},
 "title":{"font":"Liberation Sans","fontSize":23,"fontWeight":"normal","color":"#000"}
}
}
